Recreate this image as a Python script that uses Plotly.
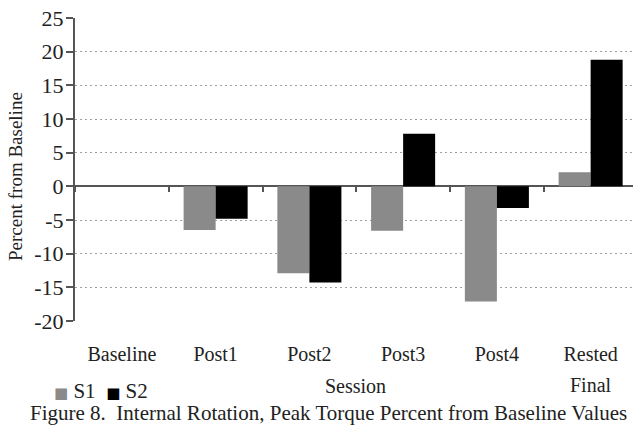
import plotly.graph_objects as go

# Sessions and percent change from baseline peak torque (internal rotation)
sessions = ["Baseline", "Post1", "Post2", "Post3", "Post4", "Rested Final"]
session_labels = ["Baseline", "Post1", "Post2", "Post3", "Post4", "Rested"]
s1_values = [0.0, -6.5, -12.9, -6.6, -17.1, 2.1]
s2_values = [0.0, -4.8, -14.3, 7.8, -3.2, 18.8]
y_ticks = [-20, -15, -10, -5, 0, 5, 10, 15, 20, 25]
y_tick_text = [str(v) for v in y_ticks]

series_names = ["S1", "S2"]
series_colors = ["#8a8a8a", "#000000"]

SERIF = "Liberation Serif, Times New Roman, serif"
AXIS_GRAY = "#555555"

# plot area in pixels, used to place the text blocks around it
L, R, T, B = 75, 633, 18, 321


def px_x(p):
    return (p - L) / (R - L)


def px_y(p):
    return (B - p) / (B - T)


fig = go.Figure()
for name, vals, col in zip(series_names, [s1_values, s2_values], series_colors):
    fig.add_trace(go.Bar(name=name, x=sessions, y=vals,
                         marker=dict(color=col, line=dict(width=0))))
# empty trace that carries the boundary tick marks on the zero line
fig.add_trace(go.Scatter(x=[], y=[], xaxis="x2", showlegend=False, hoverinfo="skip"))

x_range = [-0.5, 5.452]

# legend line: colored square followed by the series name
legend_parts = []
for name, col in zip(series_names, series_colors):
    legend_parts.append(
        f"<span style='color:{col};font-family:DejaVu Sans;font-size:15px'>■</span>&nbsp;{name}"
    )
legend_text = "&nbsp;&nbsp;".join(legend_parts)

annotations = [
    dict(text="Percent from Baseline", textangle=-90, x=px_x(15), y=px_y(177),
         xanchor="center", yanchor="middle", xref="paper", yref="paper",
         showarrow=False, font=dict(size=19)),
    dict(text="Session", x=px_x(355), y=px_y(386), xref="paper", yref="paper",
         xanchor="center", yanchor="middle", showarrow=False, font=dict(size=20)),
    dict(text="Final", x="Rested Final", y=px_y(385), xref="x", yref="paper",
         xanchor="center", yanchor="middle", showarrow=False, font=dict(size=20)),
    dict(text=legend_text, x=px_x(52), y=px_y(391), xref="paper", yref="paper",
         xanchor="left", yanchor="middle", showarrow=False, font=dict(size=21)),
    dict(text="Figure 8.  Internal Rotation, Peak Torque Percent from Baseline Values",
         x=px_x(328), y=px_y(413), xref="paper", yref="paper", showarrow=False,
         xanchor="center", yanchor="middle", font=dict(size=21)),
]

fig.update_layout(
    width=633, height=429,
    margin=dict(l=L, r=633 - R, t=T, b=429 - B),
    paper_bgcolor="white", plot_bgcolor="white",
    barmode="group", bargap=0.317, bargroupgap=0,
    font=dict(family=SERIF, size=19, color="#222222"),
    showlegend=False,
    xaxis=dict(
        type="category", categoryorder="array", categoryarray=sessions,
        range=x_range, tickvals=sessions, ticktext=session_labels,
        showline=False, showgrid=False, zeroline=False, ticks="",
        ticklabelstandoff=19, tickfont=dict(size=20),
    ),
    xaxis2=dict(
        overlaying="x", anchor="free", position=20 / 45,
        type="category", categoryorder="array", categoryarray=sessions,
        range=x_range, tickson="boundaries", ticks="outside", ticklen=5,
        tickcolor=AXIS_GRAY, tickwidth=2, showticklabels=False,
        showline=False, showgrid=False, zeroline=False,
    ),
    yaxis=dict(
        range=[-20, 25], tickvals=y_ticks, ticktext=y_tick_text,
        showline=True, linecolor=AXIS_GRAY,
        linewidth=2, ticks="outside", ticklen=7, tickcolor=AXIS_GRAY, tickwidth=2,
        showgrid=True, gridcolor="#a0a0a0", gridwidth=1, griddash="2px,3px",
        zeroline=True, zerolinecolor=AXIS_GRAY, zerolinewidth=2,
        tickfont=dict(size=22), ticklabelstandoff=-2,
    ),
    annotations=annotations,
)

fig.write_html("out.html")
